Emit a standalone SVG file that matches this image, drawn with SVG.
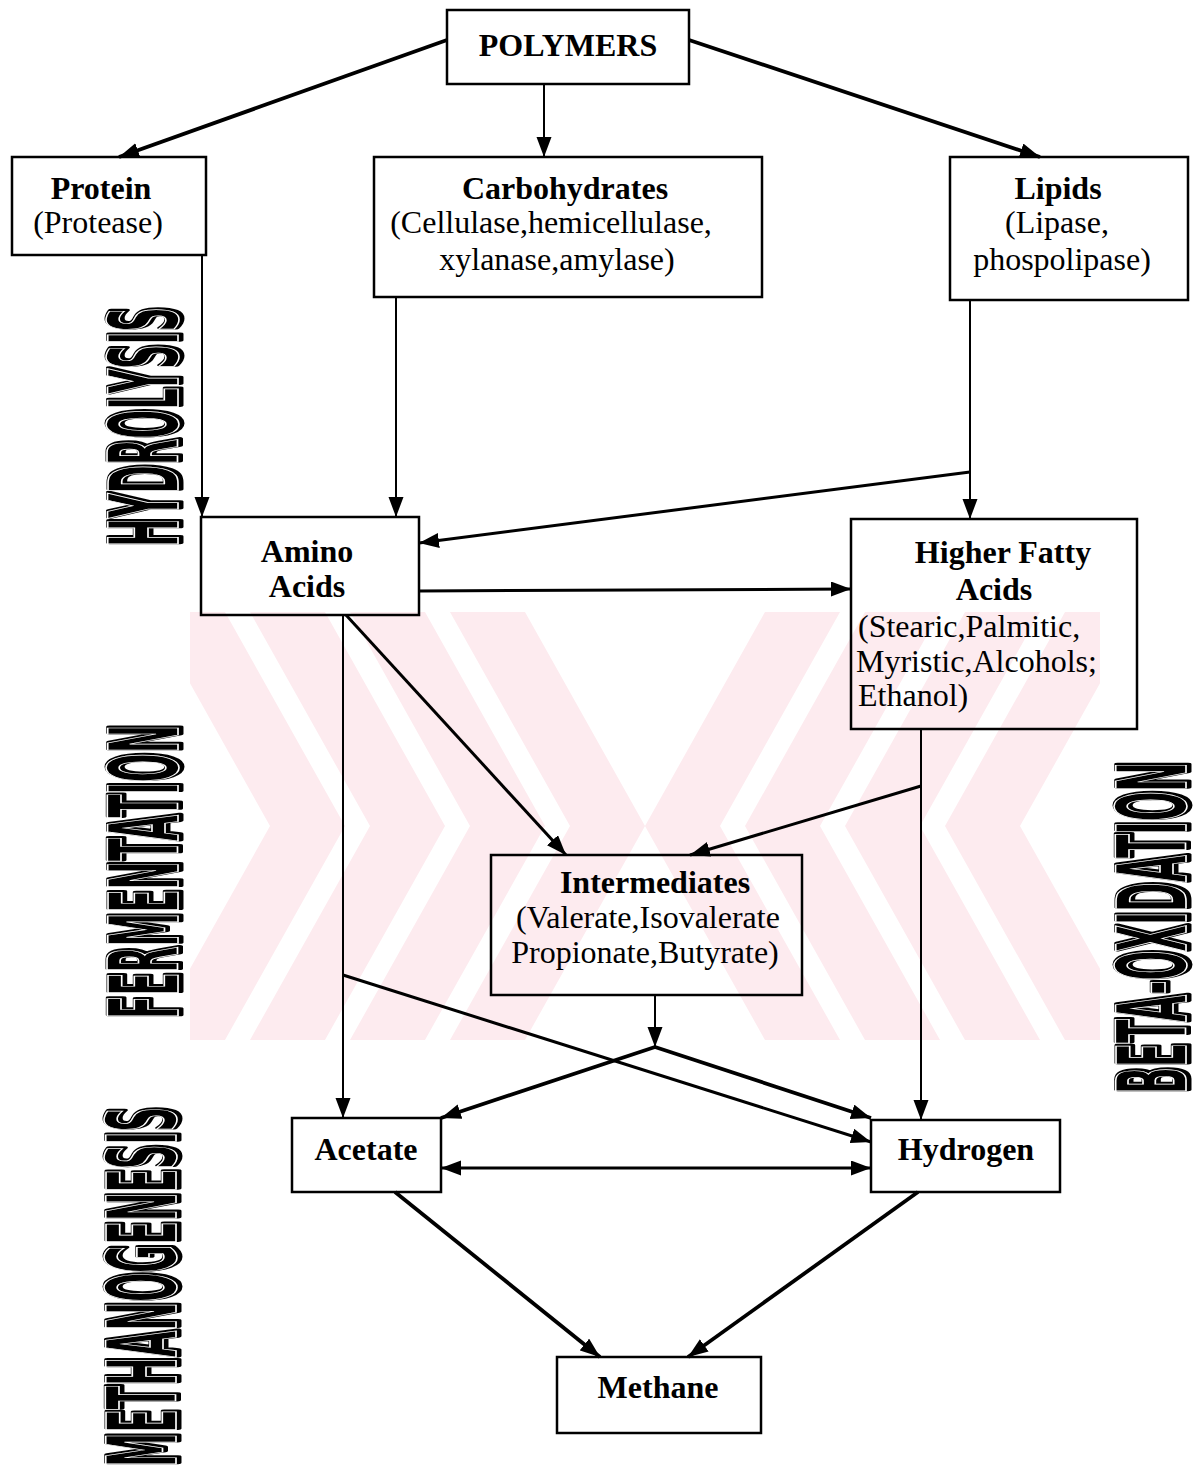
<svg xmlns="http://www.w3.org/2000/svg" width="1201" height="1473" viewBox="0 0 1201 1473">
  <style>
    .box { fill: none; stroke: #000; stroke-width: 2.5; }
    .t { font-family: "Liberation Serif", "Times New Roman", serif; font-size: 32px; fill: #000; text-anchor: middle; }
    .b { font-weight: bold; }
    .l { text-anchor: start; }
    .thin { stroke-width: 2; }
    .mid { stroke-width: 3; }
    .thick { stroke-width: 3.8; }
    .stage { font-family: "DejaVu Sans Condensed", "DejaVu Sans", sans-serif; font-weight: bold; font-size: 96px; text-anchor: middle; }
    .shadow { fill: #000; stroke: #000; stroke-width: 7; stroke-linejoin: round; }
    .inline { fill: none; stroke: #fff; stroke-width: 1.6; }
    .wm { fill: #fdebef; }
  </style>
  <defs>
    <marker id="ah" markerUnits="userSpaceOnUse" markerWidth="22" markerHeight="16" viewBox="0 0 22 16" refX="20" refY="7.5" orient="auto-start-reverse">
      <path d="M0,0 L20,7.5 L0,15 z" fill="#000"/>
    </marker>
    <clipPath id="wmclip">
      <rect x="190" y="612" width="910" height="428"/>
    </clipPath>
  </defs>

  <rect width="1201" height="1473" fill="#fff"/>

  <!-- background watermark: chevron bands -->
  <g id="watermark" clip-path="url(#wmclip)">
    <polygon class="wm" points="150,612 225,612 345,826 225,1040 150,1040 270,826"/>
    <polygon class="wm" points="250,612 325,612 445,826 325,1040 250,1040 370,826"/>
    <polygon class="wm" points="350,612 425,612 545,826 425,1040 350,1040 470,826"/>
    <polygon class="wm" points="450,612 525,612 645,826 525,1040 450,1040 570,826"/>
    <polygon class="wm" points="1140,612 1065,612 945,826 1065,1040 1140,1040 1020,826"/>
    <polygon class="wm" points="1040,612 965,612 845,826 965,1040 1040,1040 920,826"/>
    <polygon class="wm" points="940,612 865,612 745,826 865,1040 940,1040 820,826"/>
    <polygon class="wm" points="840,612 765,612 645,826 765,1040 840,1040 720,826"/>
  </g>

  <!-- stage labels, read bottom to top -->
  <g id="stage-labels" class="stage">
    <g transform="translate(180,426) rotate(-90)">
      <text class="shadow" textLength="240" lengthAdjust="spacingAndGlyphs">HYDROLYSIS</text>
      <text class="inline" x="-1" y="-2" textLength="240" lengthAdjust="spacingAndGlyphs">HYDROLYSIS</text>
    </g>
    <g transform="translate(180,871) rotate(-90)">
      <text class="shadow" textLength="294" lengthAdjust="spacingAndGlyphs">FERMENTATION</text>
      <text class="inline" x="-1" y="-2" textLength="294" lengthAdjust="spacingAndGlyphs">FERMENTATION</text>
    </g>
    <g transform="translate(178,1286) rotate(-90)">
      <text class="shadow" textLength="360" lengthAdjust="spacingAndGlyphs">METHANOGENESIS</text>
      <text class="inline" x="-1" y="-2" textLength="360" lengthAdjust="spacingAndGlyphs">METHANOGENESIS</text>
    </g>
    <g transform="translate(1188,927) rotate(-90)">
      <text class="shadow" textLength="332" lengthAdjust="spacingAndGlyphs">BETA-OXIDATION</text>
      <text class="inline" x="-1" y="-2" textLength="332" lengthAdjust="spacingAndGlyphs">BETA-OXIDATION</text>
    </g>
  </g>

  <!-- connectors -->
  <g id="connectors" fill="none" stroke="#000">
    <line class="thick" x1="447" y1="40" x2="119" y2="157" marker-end="url(#ah)"/>
    <line class="thin" x1="544" y1="84" x2="544" y2="157" marker-end="url(#ah)"/>
    <line class="thick" x1="689" y1="40" x2="1040" y2="157" marker-end="url(#ah)"/>
    <line class="thin" x1="202" y1="255" x2="202" y2="517" marker-end="url(#ah)"/>
    <line class="thin" x1="396" y1="297" x2="396" y2="517" marker-end="url(#ah)"/>
    <line class="thin" x1="970" y1="300" x2="970" y2="519" marker-end="url(#ah)"/>
    <line class="mid" x1="970" y1="472" x2="419" y2="543" marker-end="url(#ah)"/>
    <line class="mid" x1="419" y1="591" x2="851" y2="589" marker-end="url(#ah)"/>
    <line class="thin" x1="343" y1="615" x2="343" y2="1118" marker-end="url(#ah)"/>
    <line class="mid" x1="346" y1="615" x2="566" y2="855" marker-end="url(#ah)"/>
    <line class="thin" x1="921" y1="729" x2="921" y2="1120" marker-end="url(#ah)"/>
    <line class="mid" x1="921" y1="786" x2="690" y2="855" marker-end="url(#ah)"/>
    <line class="thin" x1="655" y1="995" x2="655" y2="1047" marker-end="url(#ah)"/>
    <line class="thick" x1="655" y1="1047" x2="441" y2="1118" marker-end="url(#ah)"/>
    <line class="thick" x1="655" y1="1047" x2="871" y2="1118" marker-end="url(#ah)"/>
    <line class="mid" x1="343" y1="975" x2="871" y2="1142" marker-end="url(#ah)"/>
    <line class="mid" x1="441" y1="1168" x2="871" y2="1168" marker-start="url(#ah)" marker-end="url(#ah)"/>
    <line class="thick" x1="395" y1="1192" x2="600" y2="1357" marker-end="url(#ah)"/>
    <line class="thick" x1="918" y1="1192" x2="688" y2="1357" marker-end="url(#ah)"/>
  </g>

  <!-- nodes -->
  <g id="polymers">
    <rect class="box" x="447" y="10" width="242" height="74"/>
    <text class="t b" x="568" y="56">POLYMERS</text>
  </g>
  <g id="protein">
    <rect class="box" x="12" y="157" width="194" height="98"/>
    <text class="t b" x="101" y="199">Protein</text>
    <text class="t" x="98" y="233">(Protease)</text>
  </g>
  <g id="carbohydrates">
    <rect class="box" x="374" y="157" width="388" height="140"/>
    <text class="t b" x="565" y="199">Carbohydrates</text>
    <text class="t" x="551" y="233">(Cellulase,hemicellulase,</text>
    <text class="t" x="557" y="270">xylanase,amylase)</text>
  </g>
  <g id="lipids">
    <rect class="box" x="950" y="157" width="238" height="143"/>
    <text class="t b" x="1058" y="199">Lipids</text>
    <text class="t" x="1057" y="233">(Lipase,</text>
    <text class="t" x="1062" y="270">phospolipase)</text>
  </g>
  <g id="amino-acids">
    <rect class="box" x="201" y="517" width="218" height="98"/>
    <text class="t b" x="307" y="562">Amino</text>
    <text class="t b" x="307" y="597">Acids</text>
  </g>
  <g id="higher-fatty-acids">
    <rect class="box" x="851" y="519" width="286" height="210"/>
    <text class="t b" x="1003" y="563">Higher Fatty</text>
    <text class="t b" x="994" y="600">Acids</text>
    <text class="t l" x="858" y="637">(Stearic,Palmitic,</text>
    <text class="t l" x="856" y="672">Myristic,Alcohols;</text>
    <text class="t l" x="858" y="706">Ethanol)</text>
  </g>
  <g id="intermediates">
    <rect class="box" x="491" y="855" width="311" height="140"/>
    <text class="t b" x="655" y="893">Intermediates</text>
    <text class="t" x="648" y="928">(Valerate,Isovalerate</text>
    <text class="t" x="645" y="963">Propionate,Butyrate)</text>
  </g>
  <g id="acetate">
    <rect class="box" x="292" y="1118" width="149" height="74"/>
    <text class="t b" x="366" y="1160">Acetate</text>
  </g>
  <g id="hydrogen">
    <rect class="box" x="871" y="1120" width="189" height="72"/>
    <text class="t b" x="966" y="1160">Hydrogen</text>
  </g>
  <g id="methane">
    <rect class="box" x="557" y="1357" width="204" height="76"/>
    <text class="t b" x="658" y="1398">Methane</text>
  </g>
</svg>
